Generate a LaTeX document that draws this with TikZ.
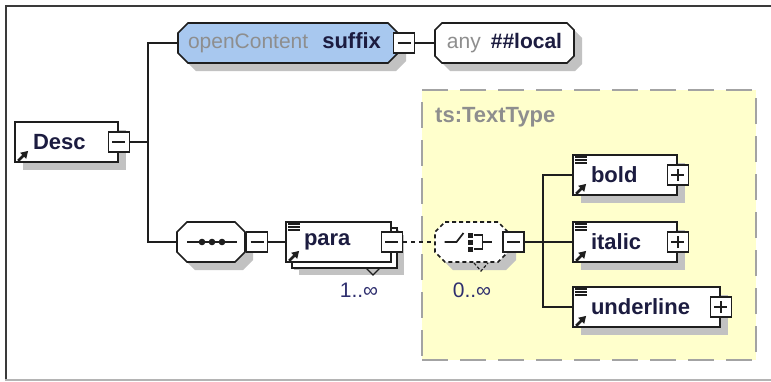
\documentclass[tikz,border=0pt]{standalone}
\usepackage{fontspec}
\setmainfont{Liberation Sans}
\usepackage{xcolor}
\usetikzlibrary{arrows.meta,positioning,calc,shadows,backgrounds}
\definecolor{xline}{HTML}{1E1E1E}
\definecolor{xtext}{HTML}{1C1C40}
\definecolor{xgrey}{HTML}{8E8E8E}
\definecolor{xdash}{HTML}{A3A3A3}
\definecolor{xblue}{HTML}{A8C8EF}
\definecolor{xyellow}{HTML}{FFFFCC}
\definecolor{xshadow}{HTML}{C2C2C2}
\definecolor{xocc}{HTML}{2E2E6E}
\definecolor{xframe}{HTML}{3A3A3A}
\definecolor{xframelow}{HTML}{B4B4B4}

\begin{document}
\begin{tikzpicture}[x=1pt,y=-1pt,
  every node/.style={font=\fontsize{21}{24}\selectfont},
  conn/.style={xline,line width=1.7pt},
  shade/.style={drop shadow={shadow xshift=8pt,shadow yshift=-8pt,opacity=1,fill=xshadow}},
  elem/.style={draw=xline,line width=1.7pt,fill=white,minimum height=40pt,inner xsep=18pt,inner ysep=0pt,
    align=left,text=xtext,font=\fontsize{22}{24}\selectfont\bfseries,shade},
  octo/.style={minimum height=40pt,inner sep=0pt,outer sep=0pt,text=xtext},
  octoline/.style={draw=xline,line width=1.7pt,shade},
  togglebox/.style={draw=xline,line width=1.7pt,fill=white,minimum width=21pt,minimum height=20pt,inner sep=0pt},
  minusbox/.style={togglebox,path picture={
    \draw[xline,line width=1.4pt] ([xshift=4pt]path picture bounding box.west) -- ([xshift=-4pt]path picture bounding box.east);}},
  plusbox/.style={togglebox,path picture={
    \draw[xline,line width=1.4pt] ([xshift=4pt]path picture bounding box.west) -- ([xshift=-4pt]path picture bounding box.east);
    \draw[xline,line width=1.4pt] ([yshift=4pt]path picture bounding box.south) -- ([yshift=-4pt]path picture bounding box.north);}},
  occ/.style={text=xocc,font=\fontsize{21}{24}\selectfont}]
  \useasboundingbox (0,0) rectangle (771,381);
  \draw[xframe,line width=2pt] (771,5.5) -- (6,5.5) -- (6,381);
  \draw[xframelow,line width=1.5pt] (5,380) -- (771,380);

  \begin{scope}[on background layer]
    \node[draw=xdash,fill=xyellow,line width=1.8pt,dash pattern=on 26pt off 12pt,
          minimum width=334pt,minimum height=270pt] (ttbox) at (589,225) {};
  \end{scope}
  \node[text=xgrey,font=\fontsize{22}{24}\selectfont\bfseries,anchor=west,inner sep=0pt] (tt) at (435,117) {ts:TextType};

  \node[elem,minimum width=103pt,text width=67pt] (desc) at (66.5,142) {Desc};
  \node[minusbox] (descm) at (desc.east) {};

  \node[octo,minimum width=220pt,inner xsep=10pt,text width=200pt,align=left] (oc) at (288,43)
    {\textcolor{xgrey}{openContent}\hspace{14pt}{\fontsize{22}{24}\selectfont\bfseries suffix}};
  \node[minusbox] (ocm) at (404,43) {};
  \node[octo,minimum width=139pt] (any) at (504.5,43)
    {\textcolor{xgrey}{any}\hspace{10pt}\textbf{\#\#local}};

  \node[octo,minimum width=68pt] (seq) at (211,242) {};
  \node[minusbox] (seqm) at (257,242) {};
  \draw[xline,line width=1.7pt] ($(seq.center)+(-24,0)$) -- ++(50,0);
  \foreach \dx in {-9,1,11}
    \fill[xline] ($(seq.center)+(\dx,0)$) circle (3.3);

  \node[elem,minimum width=105pt,text width=69pt,
        drop shadow={shadow xshift=13pt,shadow yshift=-13pt,opacity=1,fill=xshadow},
        copy shadow={shadow xshift=6pt,shadow yshift=-6pt,draw=xline,fill=white}] (para) at (338.5,242) {para};
  \node[minusbox] (param) at (para.east) {};
  \draw[xline,line width=1.2pt] (366,268) -- (373,275) -- (380,268);
  \node[occ] (paraocc) at (359,290) {1..∞};

  \node[octo,minimum width=73pt] (choice) at (471.5,242) {};
  \node[minusbox] (choicem) at (513.5,242) {};
  \draw[xline,line width=1.2pt,dash pattern=on 3pt off 2pt] (474,263) -- (481,271) -- (488,263);
  \draw[xline,line width=1.7pt] ($(choice.center)+(-27,0)$) -- ++(12,0) -- ++(7,-9);
  \foreach \dy in {-7,0,7}
    \fill[xline] ($(choice.center)+(-4,\dy-2.5)$) rectangle ++(5,5);
  \draw[xline,line width=1.5pt] ($(choice.center)+(2,-7)$) -- ++(9,0) -- ++(0,14) -- ++(-9,0)
    ($(choice.center)+(11,0)$) -- ++(9,0);
  \node[occ] (choiceocc) at (472,290) {0..∞};

  \begin{scope}[on background layer]
    \foreach \n/\c/\col in {oc/10/xblue,any/7/white,seq/10/white}
      \draw[octoline,fill=\col] ($(\n.north west)+(\c,0)$) -- ($(\n.north east)+(-\c,0)$)
        -- ($(\n.north east)+(0,\c)$) -- ($(\n.south east)+(0,-\c)$) -- ($(\n.south east)+(-\c,0)$)
        -- ($(\n.south west)+(\c,0)$) -- ($(\n.south west)+(0,-\c)$) -- ($(\n.north west)+(0,\c)$) -- cycle;
    \draw[octoline,fill=white,dash pattern=on 4pt off 3pt] ($(choice.north west)+(10,0)$) -- ($(choice.north east)+(-10,0)$)
      -- ($(choice.north east)+(0,10)$) -- ($(choice.south east)+(0,-10)$) -- ($(choice.south east)+(-10,0)$)
      -- ($(choice.south west)+(10,0)$) -- ($(choice.south west)+(0,-10)$) -- ($(choice.north west)+(0,10)$) -- cycle;
  \end{scope}

  \node[elem,minimum width=104pt,text width=68pt] (bold) at (625,175) {bold};
  \node[elem,minimum width=104pt,text width=68pt] (italic) at (625,242) {italic};
  \node[elem,minimum width=147pt,text width=111pt] (underline) at (646.5,307) {underline};
  \foreach \n in {bold,italic,underline}
    \node[plusbox] (plus\n) at (\n.east) {};

  \foreach \n in {para,bold,italic,underline}
    \foreach \dy in {3,6,9}
      \draw[xline,line width=1.4pt] ($(\n.north west)+(3,\dy)$) -- ++(12,0);
  \foreach \n in {desc,para,bold,italic,underline}
    \draw[xline,line width=2.6pt,-{Triangle[length=7pt,width=8pt]}] ($(\n.south west)+(4,-2)$) -- ++(10,-10);

  \coordinate (jdesc) at (148,142);
  \draw[conn] (descm.east) -- (jdesc) |- (oc.west);
  \draw[conn] (jdesc) |- (seq.west);
  \draw[conn] (ocm.east) -- (any.west);
  \draw[conn] (seqm.east) -- (para.west);
  \draw[conn,dash pattern=on 4pt off 4pt] (param.east) -- (choice.west);
  \coordinate (jchoice) at (543,242);
  \draw[conn] (choicem.east) -- (jchoice) |- (bold.west);
  \draw[conn] (jchoice) |- (underline.west);
  \draw[conn] (jchoice) -- (italic.west);
\end{tikzpicture}
\end{document}
